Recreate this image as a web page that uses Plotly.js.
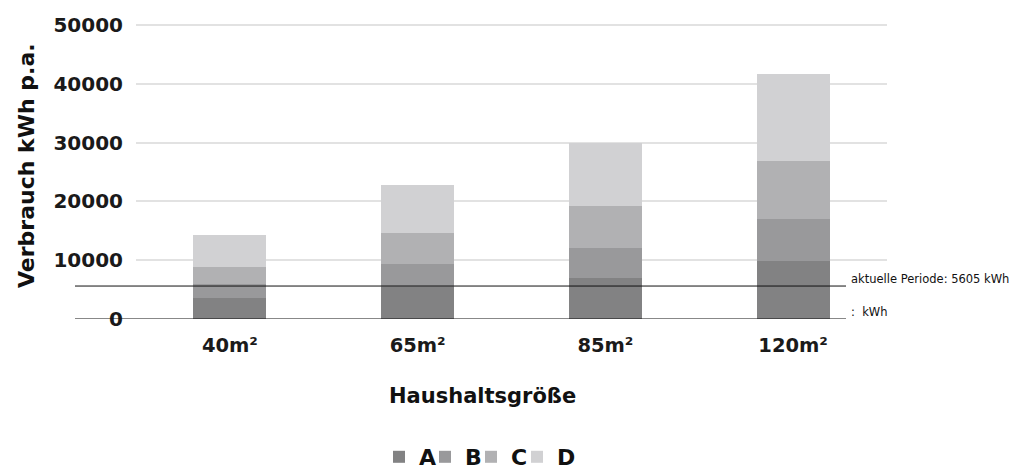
<!DOCTYPE html>
<html>
<head>
<meta charset="utf-8">
<script src="https://cdn.plot.ly/plotly-3.0.1.min.js"></script>
<style>html,body{margin:0;padding:0;background:#fff;}#chart{width:1016px;height:470px;}</style>
</head>
<body>
<div id="chart"></div>
<script>
const categories = ['40m²', '65m²', '85m²', '120m²'];
const seriesNames = ['A', 'B', 'C', 'D'];
const valuesA = [3500, 5500, 6900, 9900];
const valuesB = [2400, 3900, 5250, 7100];
const valuesC = [3000, 5250, 7050, 9900];
const valuesD = [5400, 8150, 10800, 14700];
const currentPeriod = 5605;
const yTicks = [0, 10000, 20000, 30000, 40000, 50000];

const colors = ['#828283', '#99999b', '#b1b1b3', '#d1d1d3'];
const allValues = [valuesA, valuesB, valuesC, valuesD];

const traces = allValues.map((vals, i) => ({
  type: 'bar',
  name: seriesNames[i],
  x: categories,
  y: vals,
  width: 0.39,
  marker: {color: colors[i], line: {width: 0}},
  legendwidth: i === allValues.length - 1 ? 22 : 1,
  hoverinfo: 'x+y+name'
}));

const font = '"DejaVu Sans", Arial, sans-serif';
const plotLeft = 136, plotRight = 887, plotTop = 22, plotBottom = 319;
const pw = plotRight - plotLeft, ph = plotBottom - plotTop;

const layout = {
  width: 1016,
  height: 470,
  margin: {l: plotLeft, r: 1016 - plotRight, t: plotTop, b: 470 - plotBottom, autoexpand: false},
  paper_bgcolor: '#ffffff',
  plot_bgcolor: '#ffffff',
  barmode: 'stack',
  showlegend: true,
  legend: {
    orientation: 'h',
    x: (379 - plotLeft) / pw, xanchor: 'left',
    y: (plotBottom - 457) / ph, yanchor: 'middle',
    font: {family: font, size: 22, color: '#111', weight: 'bold'},
    itemwidth: 30,
    traceorder: 'normal'
  },
  xaxis: {
    type: 'category',
    showgrid: false,
    zeroline: false,
    showline: false,
    ticks: '',
    tickfont: {family: font, size: 19.5, color: '#1a1a1a', weight: 'bold'},
    ticklabelstandoff: 12
  },
  yaxis: {
    range: [0, 50500],
    tickvals: yTicks,
    ticktext: yTicks.map(String),
    showgrid: true,
    gridcolor: '#e2e2e2',
    gridwidth: 2,
    zeroline: false,
    showline: false,
    ticks: '',
    tickfont: {family: font, size: 20, color: '#1a1a1a', weight: 'bold'},
    ticklabelstandoff: 12
  },
  shapes: [
    {type: 'line', xref: 'paper', yref: 'y', x0: (75 - plotLeft) / pw, x1: (846 - plotLeft) / pw, y0: currentPeriod, y1: currentPeriod,
     line: {color: '#111', width: 1}},
    {type: 'line', xref: 'paper', yref: 'y', x0: (75 - plotLeft) / pw, x1: (846 - plotLeft) / pw, y0: 0, y1: 0,
     line: {color: '#111', width: 1}}
  ],
  annotations: [
    {text: 'aktuelle Periode: ' + currentPeriod + ' kWh', xref: 'paper', yref: 'y', x: (849 - plotLeft) / pw, y: currentPeriod,
     xanchor: 'left', yanchor: 'bottom', yshift: -2, showarrow: false, font: {family: font, size: 11.5, color: '#111'}},
    {text: ':  kWh', xref: 'paper', yref: 'y', x: (849 - plotLeft) / pw, y: 0,
     xanchor: 'left', yanchor: 'bottom', yshift: -2, showarrow: false, font: {family: font, size: 11.5, color: '#111'}},
    {text: 'Haushaltsgröße', xref: 'paper', yref: 'paper', x: (482 - plotLeft) / pw, y: (plotBottom - 396) / ph,
     xanchor: 'center', yanchor: 'middle', showarrow: false,
     font: {family: font, size: 21, color: '#111', weight: 'bold'}},
    {text: 'Verbrauch kWh p.a.', xref: 'paper', yref: 'paper', x: (26 - plotLeft) / pw, y: (plotBottom - 166) / ph,
     xanchor: 'center', yanchor: 'middle', textangle: -90, showarrow: false,
     font: {family: font, size: 22, color: '#111', weight: 'bold'}}
  ]
};

Plotly.newPlot('chart', traces, layout, {displayModeBar: false, staticPlot: true});
</script>
</body>
</html>
